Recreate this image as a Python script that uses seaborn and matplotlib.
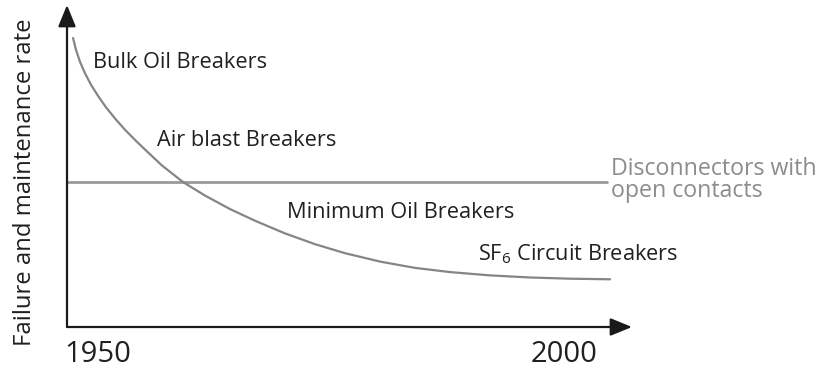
import matplotlib
matplotlib.use("Agg")
import matplotlib.pyplot as plt
import seaborn as sns
import pandas as pd

# Failure and maintenance trend of circuit breakers over time
years = [1947.32, 1947.64, 1948.07, 1948.61, 1949.25, 1950.00, 1950.86,
         1951.82, 1952.90, 1954.08, 1955.36, 1956.87, 1959.12, 1961.48,
         1964.16, 1966.85, 1970.06, 1973.28, 1976.50, 1980.26, 1984.01,
         1987.77, 1992.06, 1996.35, 2000.64, 2004.94]
rate = [96.3, 92.3, 88.3, 84.5, 80.7, 77.0, 73.2,
        69.5, 65.7, 62.0, 58.2, 53.8, 48.3, 43.8,
        39.3, 35.4, 31.2, 27.6, 24.6, 21.8, 19.7,
        18.3, 17.2, 16.5, 16.1, 15.9]

# Disconnectors with open contacts: constant level
disc_years = [1946.7, 2004.6]
disc_rate = [48.4, 48.4]

tick_years = [1950, 2000]
tick_labels = ["1950", "2000"]

breaker_labels = ["Bulk Oil Breakers", "Air blast Breakers",
                  "Minimum Oil Breakers", "SF$_6$ Circuit Breakers"]
label_years = [1949.5, 1956.3, 1970.3, 1990.8]
label_rates = [88.0, 62.0, 38.0, 24.3]

sns.set_theme(style="white")
plt.rcParams["font.family"] = ["Open Sans", "DejaVu Sans"]
plt.rcParams["mathtext.fontset"] = "custom"
plt.rcParams["mathtext.rm"] = "Open Sans"
plt.rcParams["mathtext.it"] = "Open Sans"

W, H = 824, 372
fig = plt.figure(figsize=(W / 100, H / 100), dpi=100)
ax = fig.add_axes([67 / W, (H - 327) / H, (632 - 67) / W, (327 - 5) / H])

curve = pd.DataFrame({"year": years, "rate": rate})
disc = pd.DataFrame({"year": disc_years, "rate": disc_rate})

sns.lineplot(data=disc, x="year", y="rate", ax=ax, color="#9a9a9a",
             lw=2.0, estimator=None, sort=False)
sns.lineplot(data=curve, x="year", y="rate", ax=ax, color="#858585",
             lw=1.6, estimator=None, sort=False)
for ln in ax.get_lines():
    ln.set_solid_joinstyle("round")

ax.set_xlim(1946.67, 2007.3)
ax.set_ylim(0, 107.3)

for s in ax.spines.values():
    s.set_visible(False)

# arrowed axes
for tip in [(0, 1.0), (1.0, 0)]:
    ax.annotate("", xy=tip, xytext=(0, 0), xycoords="axes fraction",
                arrowprops=dict(arrowstyle="-|>,head_length=1.1,head_width=0.45",
                                color="#1a1a1a", lw=1.6, shrinkA=0, shrinkB=0),
                annotation_clip=False)

ax.set_xticks(tick_years)
ax.set_xticklabels(tick_labels, fontsize=21, color="#231f20")
ax.set_yticks([])
ax.tick_params(axis="x", length=0, pad=9.5)
ax.set_xlabel("")
ax.set_ylabel("")

fig.text(25 / W, 1 - 182 / H, "Failure and maintenance rate", fontsize=17.2,
         color="#231f20", rotation=90, ha="center", va="center")

for txt, xv, yv in zip(breaker_labels, label_years, label_rates):
    ax.text(xv, yv, txt, fontsize=15.7, color="#231f20", ha="left",
            va="center")

ax.text(2005.0, 49.0, "Disconnectors with\nopen contacts", fontsize=16.7,
        color="#8c8c8c", ha="left", va="center", linespacing=0.85,
        clip_on=False)

fig.savefig("out.png", dpi=100)
